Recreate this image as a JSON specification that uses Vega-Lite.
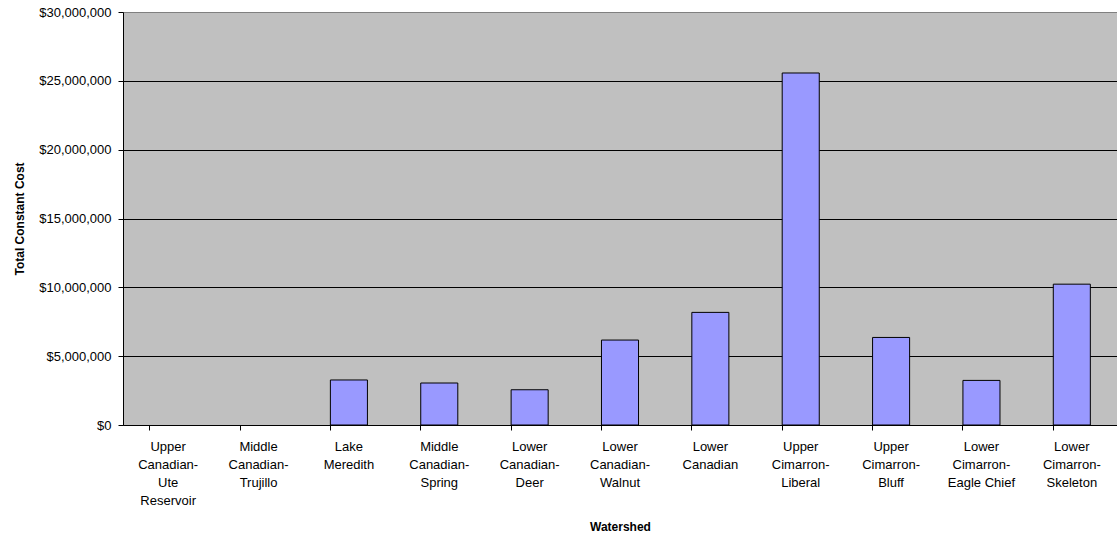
{
  "$schema": "https://vega.github.io/schema/vega-lite/v6.json",
  "autosize": "none",
  "width": 994,
  "height": 413,
  "padding": {"left": 123, "top": 12, "right": 0, "bottom": 112},
  "background": "white",
  "config": {
    "view": {"fill": "#C0C0C0", "stroke": null},
    "font": "Liberation Sans"
  },
  "data": {
    "values": [
      {"watershed": "Upper Canadian-Ute Reservoir", "cost": 0},
      {"watershed": "Middle Canadian-Trujillo", "cost": 0},
      {"watershed": "Lake Meredith", "cost": 3270000},
      {"watershed": "Middle Canadian-Spring", "cost": 3050000},
      {"watershed": "Lower Canadian-Deer", "cost": 2560000},
      {"watershed": "Lower Canadian-Walnut", "cost": 6170000},
      {"watershed": "Lower Canadian", "cost": 8180000},
      {"watershed": "Upper Cimarron-Liberal", "cost": 25570000},
      {"watershed": "Upper Cimarron-Bluff", "cost": 6360000},
      {"watershed": "Lower Cimarron-Eagle Chief", "cost": 3240000},
      {"watershed": "Lower Cimarron-Skeleton", "cost": 10230000}
    ]
  },
  "mark": {"type": "bar", "fill": "#9999FF", "strokeWidth": 1},
  "encoding": {
    "stroke": {
      "condition": {"test": "datum.cost == 0", "value": null},
      "value": "#000000"
    },
    "x": {
      "field": "watershed",
      "type": "nominal",
      "sort": null,
      "scale": {"paddingInner": 0.59, "paddingOuter": 0.295},
      "axis": {
        "title": "Watershed",
        "titleFont": "Liberation Sans",
        "titleFontSize": 12,
        "titleFontWeight": "bold",
        "titleColor": "#000",
        "titlePadding": 14,
        "labelAngle": 0,
        "labelFontSize": 13,
        "labelColor": "#000",
        "labelLineHeight": 18,
        "labelPadding": 10,
        "labelBaseline": "top",
        "labelExpr": "split(replace(replace(datum.label, /-/g, '-|'), /(\\w) (?!Chief)/g, '$1|'), '|')",
        "bandPosition": 0,
        "tickSize": 5,
        "tickColor": "#000",
        "domainColor": "#000",
        "grid": false
      }
    },
    "y": {
      "field": "cost",
      "type": "quantitative",
      "scale": {"domain": [0, 30000000], "nice": false},
      "axis": {
        "title": "Total Constant Cost",
        "titleFont": "Liberation Sans",
        "titleFontSize": 12,
        "titleFontWeight": "bold",
        "titleColor": "#000",
        "titlePadding": 12,
        "values": [0, 5000000, 10000000, 15000000, 20000000, 25000000, 30000000],
        "format": "$,.0f",
        "labelFontSize": 13,
        "labelColor": "#000",
        "labelPadding": 7,
        "tickSize": 5,
        "tickColor": "#000",
        "domainColor": "#000",
        "grid": true,
        "gridColor": {
          "condition": {"test": "datum.value == 30000000", "value": "#808080"},
          "value": "#000000"
        },
        "gridOpacity": 1,
        "gridWidth": 1
      }
    }
  }
}
